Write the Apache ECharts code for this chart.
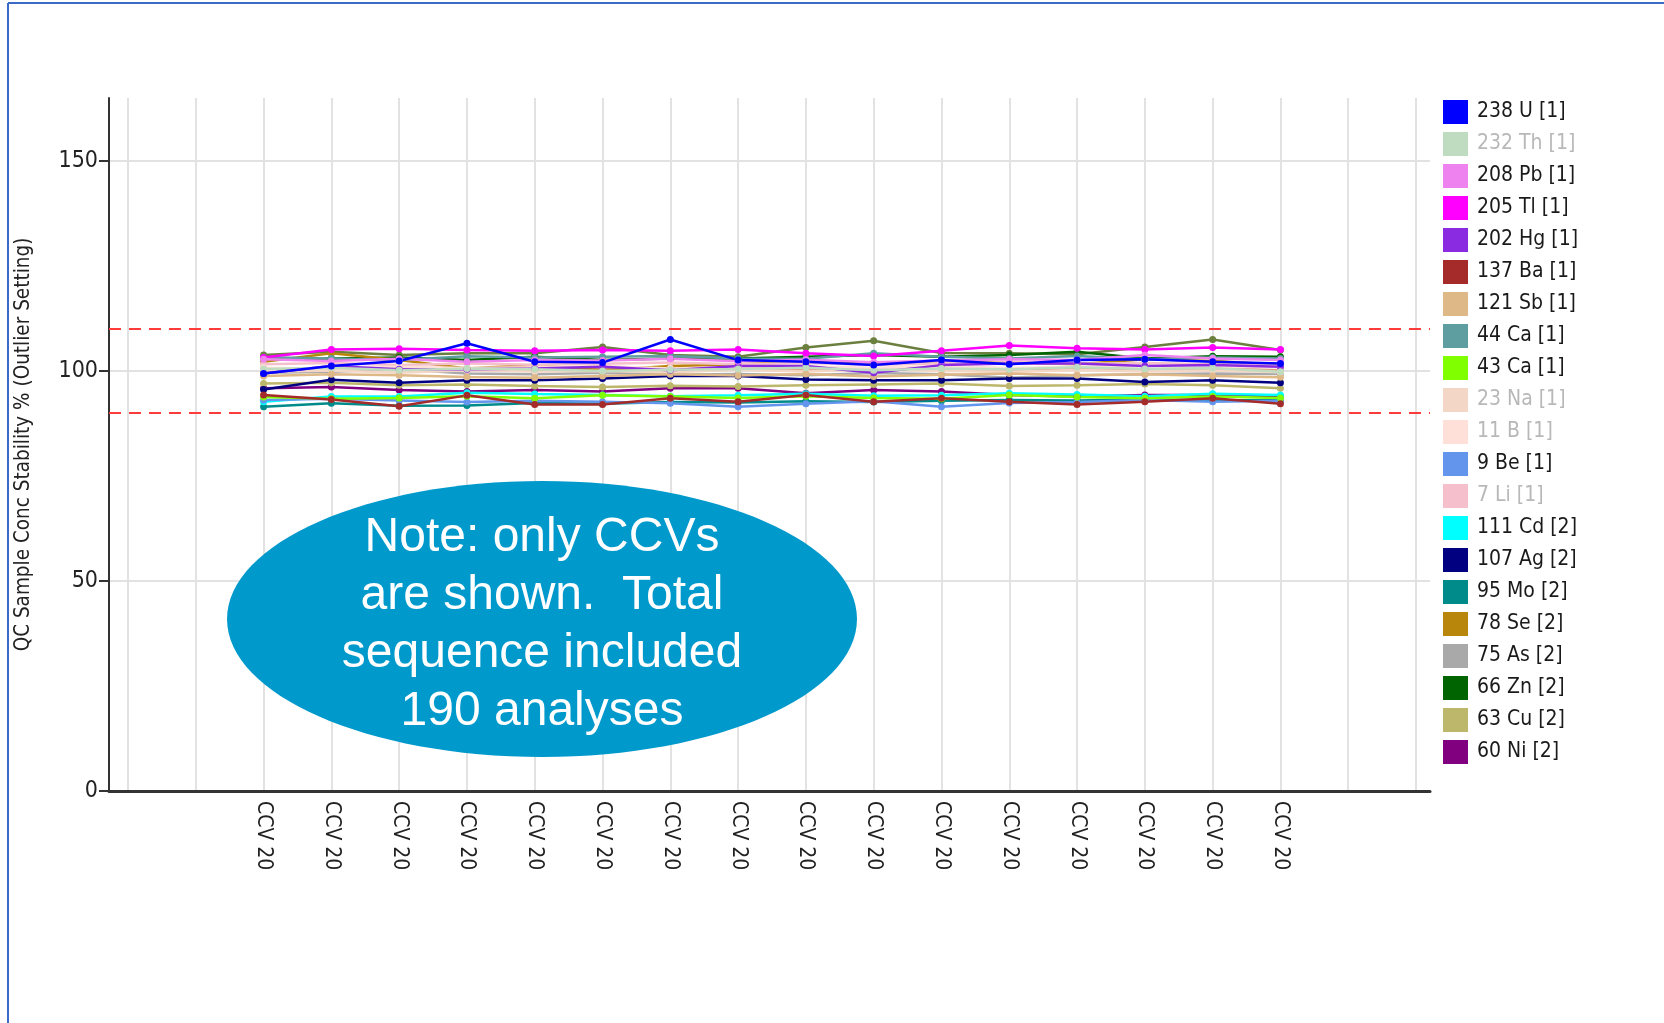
<!DOCTYPE html>
<html>
<head>
<meta charset="utf-8">
<script src="https://cdn.jsdelivr.net/npm/echarts@6/dist/echarts.min.js"></script>
<style>
  html, body { margin: 0; padding: 0; background: #fff; }
  #chart { width: 1664px; height: 1023px; }
</style>
</head>
<body>
<div id="chart"></div>
<script>
// x slots: two empty slots on each side of the 16 CCV runs
const slots = ['', '', 'CCV 20', 'CCV 20', 'CCV 20', 'CCV 20', 'CCV 20', 'CCV 20', 'CCV 20', 'CCV 20',
  'CCV 20', 'CCV 20', 'CCV 20', 'CCV 20', 'CCV 20', 'CCV 20', 'CCV 20', 'CCV 20', '', ''];
const yTicks = [0, 50, 100, 150];
const limitLines = [110, 90];

const u238 = [99.4, 101.2, 102.4, 106.6, 102.2, 102.0, 107.5, 102.6, 102.2, 101.4, 102.6, 101.6, 102.6, 102.8, 102.2, 101.8];
const th232 = [100.5, 100.8, 100.2, 100.6, 100.4, 100.0, 100.3, 100.5, 100.8, 100.2, 100.6, 100.4, 100.9, 100.5, 100.7, 99.8];
const pb208 = [102.8, 102.4, 102.9, 102.2, 102.6, 102.5, 102.9, 102.3, 102.7, 102.1, 102.5, 102.8, 102.6, 103.8, 103.0, 102.6];
const tl205 = [103.2, 105.1, 105.3, 105.0, 104.8, 105.0, 104.8, 105.1, 104.2, 103.6, 104.8, 106.1, 105.4, 105.1, 105.6, 105.1];
const hg202 = [99.4, 101.2, 100.4, 100.4, 100.6, 101.0, 100.2, 101.2, 101.2, 99.6, 101.4, 101.8, 101.8, 101.2, 101.4, 101.0];
const ba137 = [94.3, 93.2, 91.6, 94.2, 92.0, 92.0, 93.5, 92.7, 94.3, 92.7, 93.5, 92.7, 92.0, 92.7, 93.5, 92.2];
const sb121 = [98.8, 99.2, 99.0, 98.6, 98.4, 98.8, 99.2, 98.9, 99.3, 98.7, 99.1, 99.4, 99.0, 99.2, 98.8, 98.5];
const ca44 = [103.3, 103.0, 102.6, 103.5, 103.2, 103.4, 103.6, 103.0, 102.9, 104.2, 103.4, 103.0, 103.6, 102.8, 103.2, 103.0];
const ca43 = [93.8, 93.4, 93.6, 94.0, 93.5, 94.2, 93.9, 93.6, 94.0, 93.6, 93.4, 94.3, 93.8, 93.5, 93.9, 93.6];
const na23 = [99.8, 100.1, 99.6, 100.2, 99.9, 100.0, 99.7, 100.3, 99.9, 100.4, 100.0, 99.8, 100.2, 99.9, 100.1, 99.7];
const b11 = [100.8, 100.5, 101.0, 100.7, 100.9, 101.2, 100.6, 100.9, 101.1, 100.8, 101.2, 100.7, 101.0, 101.3, 100.9, 101.1];
const be9 = [93.1, 93.4, 93.0, 92.6, 92.9, 92.7, 92.3, 91.5, 92.2, 92.8, 91.5, 92.4, 92.6, 93.1, 92.7, 92.9];
const li7 = [101.6, 101.9, 101.4, 101.8, 101.5, 101.7, 102.0, 101.6, 101.9, 101.5, 101.8, 102.1, 101.7, 101.9, 101.6, 101.8];
const cd111 = [92.7, 93.9, 93.9, 94.8, 94.5, 94.3, 94.0, 94.2, 94.6, 94.1, 94.2, 94.7, 94.4, 94.0, 94.6, 94.3];
const ag107 = [95.6, 97.9, 97.2, 97.8, 97.8, 98.2, 98.8, 98.8, 98.0, 97.8, 97.8, 98.2, 98.2, 97.4, 97.8, 97.2];
const mo95 = [91.5, 92.3, 91.7, 91.8, 92.4, 92.2, 92.6, 92.5, 92.8, 92.6, 92.9, 93.1, 93.0, 93.2, 93.0, 93.1];
const se78 = [102.2, 104.2, 102.6, 100.6, 101.4, 100.2, 101.2, 101.6, 102.2, 101.8, 102.4, 102.0, 101.6, 102.8, 102.4, 101.5];
const as75 = [99.6, 99.8, 100.4, 99.4, 99.2, 99.6, 99.1, 99.3, 99.0, 99.5, 99.2, 98.4, 99.0, 99.2, 99.4, 99.3];
const zn66 = [102.6, 103.0, 103.2, 102.6, 103.4, 102.6, 103.0, 103.0, 103.4, 103.8, 103.4, 103.8, 104.6, 103.0, 103.5, 103.4];
const cu63 = [97.0, 97.2, 96.6, 96.8, 96.4, 96.2, 96.5, 96.3, 96.6, 96.8, 97.0, 96.4, 96.6, 96.9, 96.6, 95.9];
const ni60 = [95.9, 96.2, 95.5, 95.1, 95.5, 95.1, 95.9, 95.9, 94.7, 95.5, 95.1, 94.3, 93.9, 94.3, 94.3, 93.9];
// elements past the end of the visible legend
const co59 = [103.8, 104.6, 103.8, 104.2, 104.2, 105.7, 103.8, 103.4, 105.6, 107.2, 104.3, 104.2, 104.0, 105.7, 107.5, 105.0];
const mn55 = [100.6, 100.4, 100.8, 100.5, 100.2, 100.6, 100.9, 100.6, 100.4, 100.2, 100.5, 100.3, 100.7, 100.4, 100.6, 100.2];

const elements = [
  { name: '238 U [1]', color: '#0000ff', data: u238 },
  { name: '232 Th [1]', color: '#c0dcc0', data: th232, off: true },
  { name: '208 Pb [1]', color: '#ee82ee', data: pb208 },
  { name: '205 Tl [1]', color: '#ff00ff', data: tl205 },
  { name: '202 Hg [1]', color: '#8a2be2', data: hg202 },
  { name: '137 Ba [1]', color: '#a52a2a', data: ba137 },
  { name: '121 Sb [1]', color: '#deb887', data: sb121 },
  { name: '44 Ca [1]', color: '#5f9ea0', data: ca44 },
  { name: '43 Ca [1]', color: '#7fff00', data: ca43 },
  { name: '23 Na [1]', color: '#f3d6c6', data: na23, off: true },
  { name: '11 B [1]', color: '#ffe0d8', data: b11, off: true },
  { name: '9 Be [1]', color: '#6495ed', data: be9 },
  { name: '7 Li [1]', color: '#f5c0cc', data: li7, off: true },
  { name: '111 Cd [2]', color: '#00ffff', data: cd111 },
  { name: '107 Ag [2]', color: '#000080', data: ag107 },
  { name: '95 Mo [2]', color: '#008b8b', data: mo95 },
  { name: '78 Se [2]', color: '#b8860b', data: se78 },
  { name: '75 As [2]', color: '#a9a9a9', data: as75 },
  { name: '66 Zn [2]', color: '#006400', data: zn66 },
  { name: '63 Cu [2]', color: '#bdb76b', data: cu63 },
  { name: '60 Ni [2]', color: '#800080', data: ni60 }
];
const hiddenElements = [
  { name: '59 Co [2]', color: '#6b7f3f', data: co59 },
  { name: '55 Mn [2]', color: '#e9967a', data: mn55 }
];

const narrow = '"DejaVu Sans Condensed", "Liberation Sans", sans-serif';
const font = '"Liberation Sans", Arial, sans-serif';
const chart = echarts.init(document.getElementById('chart'));

function pad(vals) {
  return [null, null].concat(vals, [null, null]);
}

const lineSeries = hiddenElements.concat(elements.slice().reverse()).map(el => ({
  name: el.name,
  type: 'line',
  xAxisIndex: 1,
  yAxisIndex: 1,
  data: pad(el.data),
  symbol: 'circle',
  symbolSize: 7,
  lineStyle: { width: 2.5, color: el.color },
  itemStyle: { color: el.color },
  emphasis: { disabled: true }
}));

chart.setOption({
  animation: false,
  backgroundColor: '#fff',
  grid: [
    { left: 109, top: 98, width: 1321, height: 693 },
    { left: 128, top: 98, width: 1288, height: 693 }
  ],
  xAxis: [
    {
      type: 'value', gridIndex: 0, min: 0, max: 1,
      axisLine: { show: true, lineStyle: { color: '#333', width: 3 } },
      axisTick: { show: false }, axisLabel: { show: false }, splitLine: { show: false }
    },
    {
      type: 'category', gridIndex: 1, data: slots, boundaryGap: false,
      axisLine: { show: false }, axisTick: { show: false },
      axisLabel: { interval: 0, rotate: -90, margin: 10, fontSize: 21, fontFamily: narrow, color: '#222' },
      splitLine: { show: true, interval: 0, lineStyle: { color: '#e2e2e2', width: 2 } }
    }
  ],
  yAxis: [
    {
      type: 'value', gridIndex: 0, min: 0, max: 165,
      name: 'QC Sample Conc Stability % (Outlier Setting)',
      nameLocation: 'middle', nameGap: 75,
      nameTextStyle: { fontSize: 20.5, fontFamily: narrow, color: '#222' },
      axisLine: { show: true, lineStyle: { color: '#333', width: 2 } },
      axisTick: { show: true, length: 10, customValues: yTicks, lineStyle: { color: '#333', width: 2 } },
      axisLabel: { customValues: yTicks, fontSize: 23, fontFamily: narrow, color: '#222', margin: 11 },
      splitLine: { show: true, lineStyle: { color: '#e2e2e2', width: 2 } }
    },
    {
      type: 'value', gridIndex: 1, min: 0, max: 165,
      axisLine: { show: false }, axisTick: { show: false }, axisLabel: { show: false }, splitLine: { show: false }
    }
  ],
  legend: {
    orient: 'vertical',
    left: 1443,
    top: 100,
    padding: 0,
    icon: 'rect',
    itemWidth: 25,
    itemHeight: 24,
    itemGap: 8,
    selectedMode: false,
    textStyle: { fontSize: 21, lineHeight: 24, fontFamily: narrow, color: '#1a1a1a', padding: [0, 0, 0, 4] },
    data: elements.map(el => el.off
      ? { name: el.name, textStyle: { color: '#b8b8b8' } }
      : { name: el.name })
  },
  graphic: [
    { type: 'line', shape: { x1: 8, y1: 3, x2: 8, y2: 1023 }, style: { stroke: '#3a6bc8', lineWidth: 2 } },
    { type: 'line', shape: { x1: 8, y1: 3, x2: 1664, y2: 3 }, style: { stroke: '#3a6bc8', lineWidth: 2 } },
    {
      type: 'ellipse', shape: { cx: 542, cy: 619, rx: 315, ry: 138 },
      style: { fill: '#0099cc' }, z: 100
    },
    {
      type: 'text', x: 542, y: 625, z: 101,
      style: {
        text: 'Note: only CCVs\nare shown.  Total\nsequence included\n190 analyses',
        fill: '#fff', font: '48px ' + font, lineHeight: 58,
        align: 'center', verticalAlign: 'middle'
      }
    }
  ],
  series: [
    {
      name: 'limits', type: 'line', xAxisIndex: 0, yAxisIndex: 0, data: [],
      markLine: {
        silent: true, symbol: 'none', label: { show: false },
        lineStyle: { color: '#ff3b3b', type: [12, 8], width: 2 },
        data: limitLines.map(v => ({ yAxis: v }))
      }
    }
  ].concat(lineSeries)
});
</script>
</body>
</html>
